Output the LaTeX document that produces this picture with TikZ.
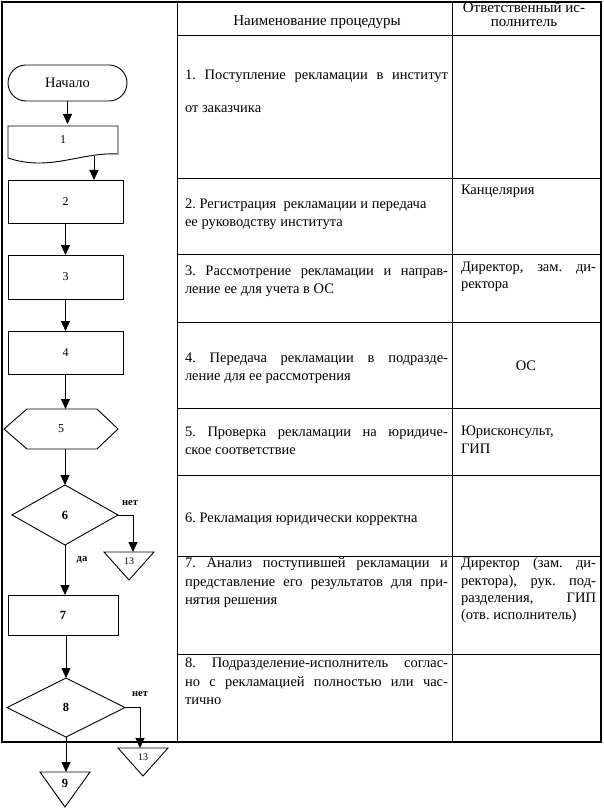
\documentclass[tikz,border=0pt]{standalone}
\usepackage{fontspec}
\setmainfont{Liberation Serif}
\usetikzlibrary{arrows.meta,shapes.geometric,calc}
\newcommand\JLine[1]{\makebox[263pt][s]{#1}}
\newcommand\JCell[1]{\makebox[135pt][s]{#1}}
\begin{document}
\frenchspacing
\begin{tikzpicture}[x=1pt,y=-1pt,
  every node/.style={inner sep=0pt, outer sep=0pt},
  frame/.style={line width=1.8pt},
  gridline/.style={line width=0.9pt},
  shp/.style={draw, line width=0.9pt},
  fbox/.style={draw, line width=0.9pt, rectangle, font=\fontsize{12}{14}\selectfont},
  dia/.style={draw, diamond, line width=0.9pt, font=\bfseries\fontsize{12.5}{14}\selectfont},
  flow/.style={line width=0.9pt, -{Triangle[length=10pt,width=9pt]}},
  txt/.style={anchor=base west, font=\fontsize{14.5}{17}\selectfont\frenchspacing},
  hdr/.style={anchor=base, font=\fontsize{15}{17}\selectfont},
  lbl/.style={font=\bfseries\fontsize{10.5}{12}\selectfont},
  num/.style={font=\fontsize{12}{14}\selectfont},
  small/.style={font=\fontsize{10}{12}\selectfont},
]
\useasboundingbox (0,0) rectangle (604,810);

% ---- table frame ----
\draw[frame] (2,2) rectangle (601,742);
\draw[gridline] (177,2) -- (177,742);
\draw[gridline] (452,2) -- (452,742);
\foreach \yy in {35,178,254,322,408,475,556,654}
  \draw[gridline] (177,\yy) -- (601,\yy);

% ---- header ----
\node[hdr] (h1) at (317,26) {Наименование процедуры};
\node[hdr] (h2a) at (524,13) {Ответственный ис-};
\node[hdr] (h2b) at (524,27) {полнитель};

% ---- column 2 ----
\node[txt] (r1a) at (185,80) {\JLine{1. Поступление рекламации в институт}};
\node[txt] (r1b) at (185,113) {от заказчика};
\node[txt] (r2a) at (185,209) {2. Регистрация\ \ рекламации и передача};
\node[txt] (r2b) at (185,226) {ее руководству института};
\node[txt] (r3a) at (185,275) {\JLine{3. Рассмотрение рекламации и направ-}};
\node[txt] (r3b) at (185,293) {ление ее для учета в ОС};
\node[txt] (r4a) at (185,362) {\JLine{4. Передача рекламации в подразде-}};
\node[txt] (r4b) at (185,380) {ление для ее рассмотрения};
\node[txt] (r5a) at (185,436) {\JLine{5. Проверка рекламации на юридиче-}};
\node[txt] (r5b) at (185,454) {ское соответствие};
\node[txt] (r6a) at (185,522) {6. Рекламация юридически корректна};
\node[txt] (r7a) at (185,567) {\JLine{7. Анализ поступившей рекламации и}};
\node[txt] (r7b) at (185,586) {\JLine{представление его результатов для при-}};
\node[txt] (r7c) at (185,604) {нятия решения};
\node[txt] (r8a) at (185,667) {\JLine{8. Подразделение-исполнитель соглас-}};
\node[txt] (r8b) at (185,686) {\JLine{но с рекламацией полностью или час-}};
\node[txt] (r8c) at (185,704) {тично};

% ---- column 3 ----
\node[txt] (c2a) at (461,195) {Канцелярия};
\node[txt] (c3a) at (461,271) {\JCell{Директор, зам. ди-}};
\node[txt] (c3b) at (461,288) {ректора};
\node[anchor=base, font=\fontsize{14.5}{17}\selectfont] (c4a) at (526,370) {ОС};
\node[txt] (c5a) at (461,435) {Юрисконсульт,};
\node[txt] (c5b) at (461,453) {ГИП};
\node[txt] (c7a) at (461,567) {\JCell{Директор (зам. ди-}};
\node[txt] (c7b) at (461,585) {\JCell{ректора), рук. под-}};
\node[txt] (c7c) at (461,602) {\JCell{разделения, ГИП}};
\node[txt] (c7d) at (461,619) {(отв. исполнитель)};

% ---- flowchart ----
\node[draw, line width=0.9pt, rounded corners=18pt, minimum width=119pt,
      minimum height=36pt, font=\fontsize{14.5}{16}\selectfont] (start) at (67.5,83) {Начало};

\node[minimum width=110pt, minimum height=32pt, num] (b1) at (63,140) {1};
\draw[shp] (8,126) -- (118,126) -- (118,154)
  .. controls (80,152) and (50,172) .. (8,158) -- cycle;
\coordinate (b1out) at (94,156);

\node[fbox, minimum width=115pt, minimum height=43pt] (b2) at (65.5,201.5) {2};
\node[fbox, minimum width=115pt, minimum height=44pt] (b3) at (65.5,277) {3};
\node[fbox, minimum width=115pt, minimum height=43pt] (b4) at (65.5,352.5) {4};

\node[minimum width=114pt, minimum height=40pt, num] (n5) at (61,429) {5};
\draw[shp] (4,429) -- (27,409) -- (97,409) -- (118,429) -- (97,449) -- (27,449) -- cycle;

\node[dia, minimum width=106pt, minimum height=60pt] (d6) at (65,515) {6};
\node[fbox, minimum width=110pt, minimum height=40pt, font=\bfseries\fontsize{12.5}{14}\selectfont] (b7) at (63,615) {7};
\node[dia, minimum width=118pt, minimum height=59pt] (d8) at (66,707.5) {8};

\node[small] (t13a) at (129,561) {13};
\draw[shp] (104,552) -- (154,552) -- (129,580) -- cycle;
\coordinate (in13a) at (133,552);
\node[small] (t13b) at (143,757) {13};
\draw[shp] (118,748) -- (168,748) -- (143,776) -- cycle;
\coordinate (in13b) at (140,748);
\node[num, font=\bfseries\fontsize{12.5}{14}\selectfont] (t9) at (65,783) {9};
\draw[shp] (40,772) -- (90,772) -- (65,807) -- cycle;
\coordinate (in9) at (65,772);

\node[lbl] (no6) at (130,503) {нет};
\node[lbl] (yes6) at (82,560) {да};
\node[lbl] (no8) at (140,694) {нет};

% ---- connectors ----
\draw[flow] (start.south) -- (start.south |- b1.north);
\draw[flow] (b1out) -- (b1out |- b2.north);
\draw[flow] (b2.south) -- (b3.north);
\draw[flow] (b3.south) -- (b4.north);
\draw[flow] (b4.south) -- (b4.south |- n5.north);
\draw[flow] (d6.north |- n5.south) -- (d6.north);
\draw[flow] (d6.south) -- (d6.south |- b7.north);
\draw[flow] (d6.east) -| (in13a);
\draw[flow] (d8.north |- b7.south) -- (d8.north);
\draw[flow] (d8.east) -| (in13b);
\draw[flow] (d8.south) -- (d8.south |- in9);
\end{tikzpicture}
\end{document}
